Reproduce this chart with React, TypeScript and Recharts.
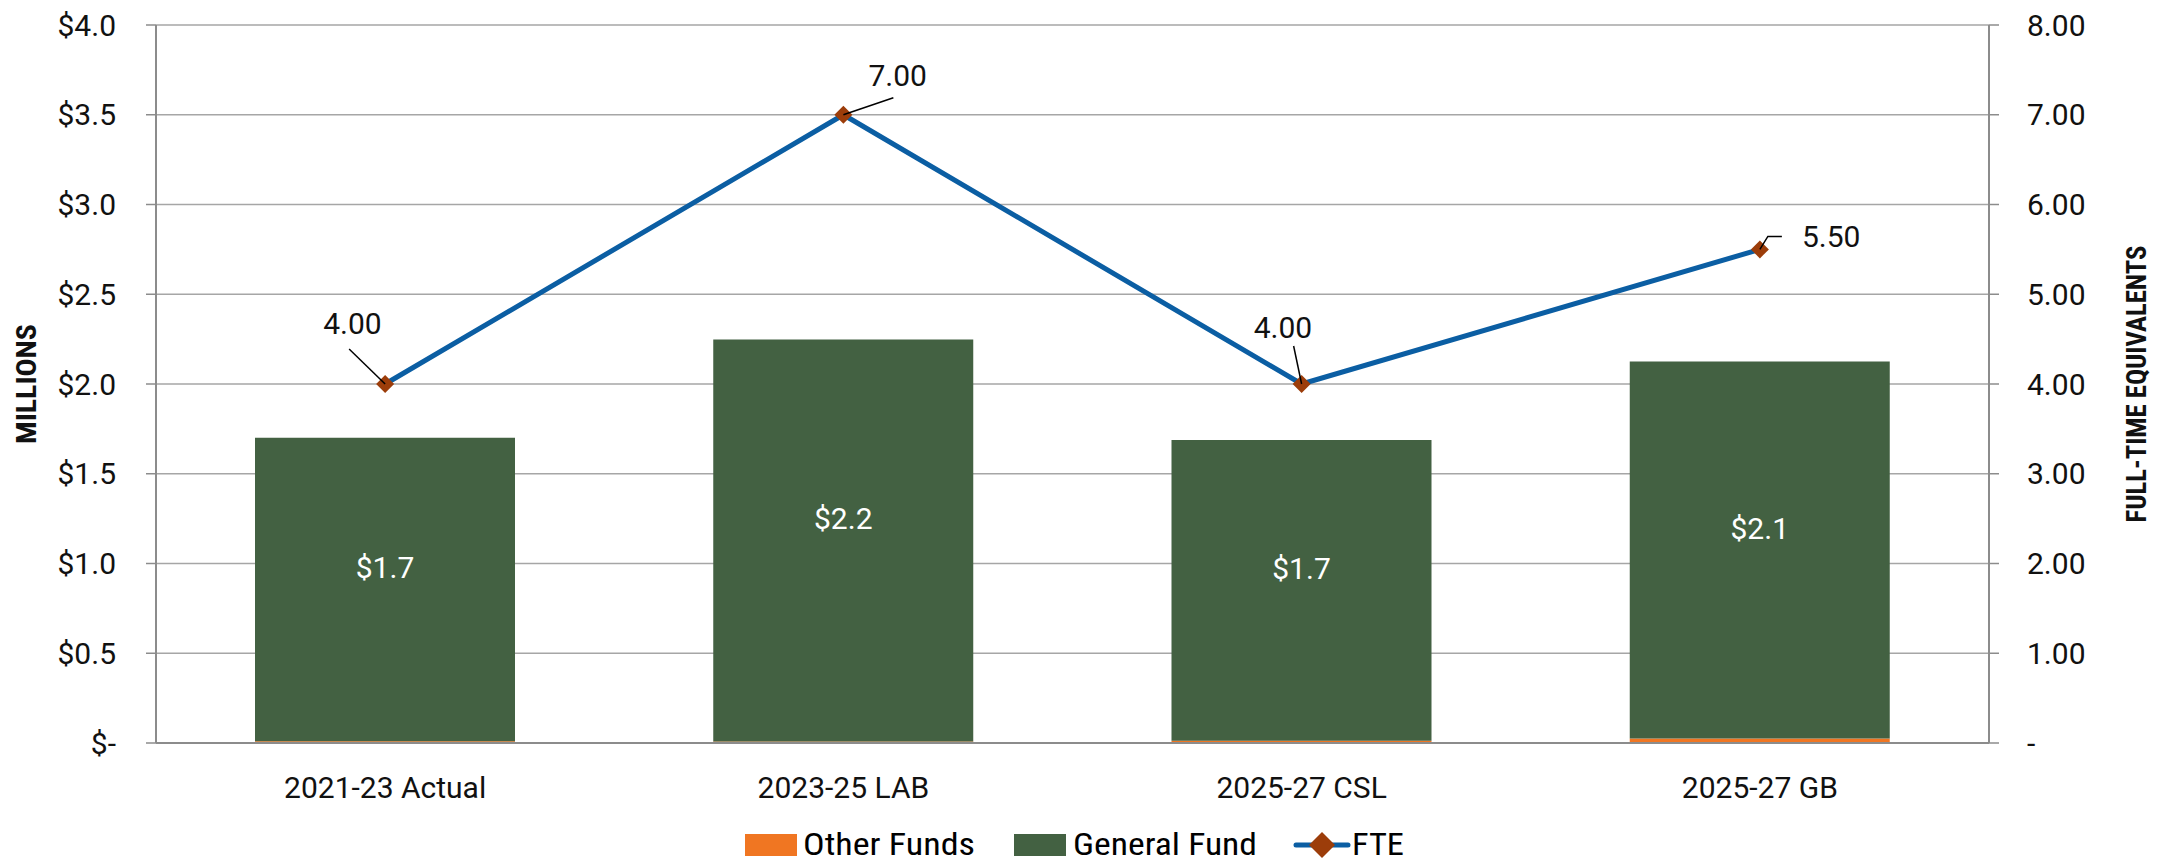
import {
  ComposedChart,
  Bar,
  Line,
  XAxis,
  YAxis,
  CartesianGrid,
  Legend,
  LabelList,
} from "recharts";

const CATEGORIES = ["2021-23 Actual", "2023-25 LAB", "2025-27 CSL", "2025-27 GB"];
const OTHER_FUNDS = [0.01, 0.008, 0.013, 0.025];
const GENERAL_FUND = [1.69, 2.24, 1.675, 2.1];
const FTE = [4, 7, 4, 5.5];
const LEFT_TICKS = [0, 0.5, 1, 1.5, 2, 2.5, 3, 3.5, 4];
const RIGHT_TICKS = [0, 1, 2, 3, 4, 5, 6, 7, 8];

// where each FTE label sits relative to its marker, and its leader line
const FTE_LABEL_LAYOUT = [
  { dx: -62, dy: -50, leader: "M -36 -35 L 0 0" },
  { dx: 25, dy: -29, leader: "M 50 -17 L 0 0" },
  { dx: -48, dy: -46, leader: "M -8 -38 L 0 0" },
  { dx: 42, dy: -2, leader: "M 0 0 L 8 -13 L 22 -13" },
];

const data = CATEGORIES.map((name, i) => ({
  name,
  other: OTHER_FUNDS[i],
  general: GENERAL_FUND[i],
  fte: FTE[i],
}));

const FONT = "Roboto, sans-serif";
const NARROW = "'Liberation Sans Narrow', 'Roboto Condensed', Roboto, sans-serif";
const GRID = "#a6a6a6";
const AXIS = "#8c8c8c";
const ORANGE = "#f07622";
const GREEN = "#436142";
const BLUE = "#0b5ea3";
const BROWN = "#9c3d0a";

const diamond = (cx: number, cy: number, r: number) =>
  `M ${cx} ${cy - r} L ${cx + r} ${cy} L ${cx} ${cy + r} L ${cx - r} ${cy} Z`;

function FteDot(props: any) {
  const { cx, cy } = props;
  if (cx == null || cy == null) return null;
  return <path d={diamond(cx, cy, 9)} fill={BROWN} />;
}

function FteLabel(props: any) {
  const { x, y, value, index } = props;
  const l = FTE_LABEL_LAYOUT[index];
  if (!l) return null;
  return (
    <g transform={`translate(${x},${y})`}>
      <path d={l.leader} stroke="#000" strokeWidth={1.5} fill="none" />
      <text x={l.dx} y={l.dy} fontFamily={FONT} fontSize={30} fill="#111">
        {Number(value).toFixed(2)}
      </text>
    </g>
  );
}

function BarLabel(props: any) {
  const { x, y, width, height, value } = props;
  return (
    <text
      x={Number(x) + Number(width) / 2}
      y={Number(y) + Number(height) / 2 - 22}
      textAnchor="middle"
      dominantBaseline="central"
      fontFamily={FONT}
      fontSize={30}
      fill="#fff"
    >
      ${Number(value).toFixed(1)}
    </text>
  );
}

function LegendBox() {
  return (
    <svg width={2170} height={60} style={{ display: "block" }}>
      <rect x={745} y={32} width={52} height={22} fill={ORANGE} />
      <text x={803} y={53} fontFamily={NARROW} fontSize={32} textLength={172} lengthAdjust="spacingAndGlyphs">
        Other Funds
      </text>
      <rect x={1014} y={32} width={52} height={22} fill={GREEN} />
      <text x={1073} y={53} fontFamily={NARROW} fontSize={32} textLength={184} lengthAdjust="spacingAndGlyphs">
        General Fund
      </text>
      <line x1={1296} y1={43} x2={1348} y2={43} stroke={BLUE} strokeWidth={5} strokeLinecap="round" />
      <path d={diamond(1322, 43, 13)} fill={BROWN} />
      <text x={1352} y={53} fontFamily={NARROW} fontSize={32} textLength={52} lengthAdjust="spacingAndGlyphs">
        FTE
      </text>
    </svg>
  );
}

function AxisTitle({ viewBox, text, dx, len }: any) {
  const cx = viewBox.x + dx;
  const cy = 384;
  return (
    <text
      x={cx}
      y={cy}
      transform={`rotate(-90 ${cx} ${cy})`}
      textAnchor="middle"
      dominantBaseline="central"
      fontFamily={NARROW}
      fontWeight="bold"
      fontSize={28}
      fill="#111"
      textLength={len}
      lengthAdjust="spacingAndGlyphs"
    >
      {text}
    </text>
  );
}

export default function App() {
  return (
    <div style={{ position: "absolute", left: 0, top: 0, background: "#fff" }}>
      <ComposedChart
        width={2170}
        height={862}
        data={data}
        margin={{ top: 25, right: 0, left: 0, bottom: 0 }}
      >
        <CartesianGrid yAxisId="left" vertical={false} stroke={GRID} strokeWidth={1.5} />
        <XAxis
          dataKey="name"
          height={59}
          tickLine={false}
          tickMargin={28}
          axisLine={{ stroke: AXIS, strokeWidth: 2 }}
          tick={{ fontFamily: FONT, fontSize: 30, fill: "#111" }}
        />
        <YAxis
          yAxisId="left"
          width={156}
          domain={[0, 4]}
          ticks={LEFT_TICKS}
          interval={0}
          tickSize={10}
          tickMargin={30}
          tickLine={{ stroke: AXIS, strokeWidth: 1.5 }}
          axisLine={{ stroke: AXIS, strokeWidth: 2 }}
          tick={{ fontFamily: FONT, fontSize: 30, fill: "#111" }}
          tickFormatter={(v: number) => (v === 0 ? "$-" : `$${v.toFixed(1)}`)}
          label={(p: any) => <AxisTitle {...p} text="MILLIONS" dx={26} len={120} />}
        />
        <YAxis
          yAxisId="right"
          orientation="right"
          width={181}
          domain={[0, 8]}
          ticks={RIGHT_TICKS}
          interval={0}
          tickSize={10}
          tickMargin={28}
          tickLine={{ stroke: AXIS, strokeWidth: 1.5 }}
          axisLine={{ stroke: AXIS, strokeWidth: 2 }}
          tick={{ fontFamily: FONT, fontSize: 30, fill: "#111", textAnchor: "start" }}
          tickFormatter={(v: number) => (v === 0 ? "-" : v.toFixed(2))}
          label={(p: any) => (
            <AxisTitle {...p} text="FULL-TIME EQUIVALENTS" dx={147} len={277} />
          )}
        />
        <Legend verticalAlign="bottom" height={60} content={() => <LegendBox />} />
        <Bar
          yAxisId="left"
          dataKey="other"
          name="Other Funds"
          stackId="a"
          fill={ORANGE}
          barSize={260}
          isAnimationActive={false}
        />
        <Bar
          yAxisId="left"
          dataKey="general"
          name="General Fund"
          stackId="a"
          fill={GREEN}
          barSize={260}
          isAnimationActive={false}
        >
          <LabelList dataKey="general" content={BarLabel} />
        </Bar>
        <Line
          yAxisId="right"
          type="linear"
          dataKey="fte"
          name="FTE"
          stroke={BLUE}
          strokeWidth={5}
          dot={FteDot}
          activeDot={false}
          isAnimationActive={false}
        >
          <LabelList dataKey="fte" content={FteLabel} />
        </Line>
      </ComposedChart>
    </div>
  );
}
